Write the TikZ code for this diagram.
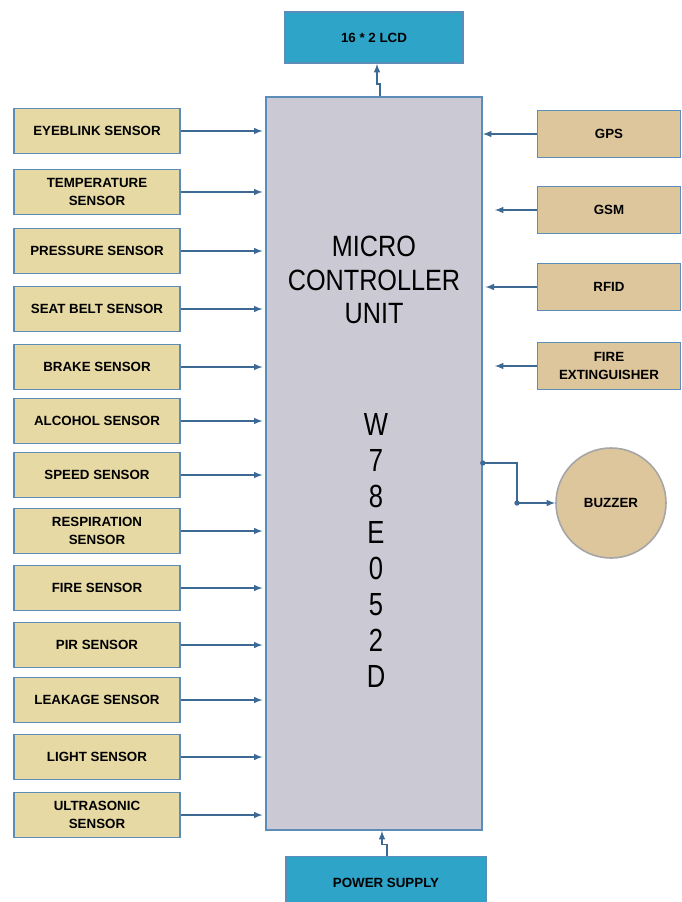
\documentclass[tikz,border=0pt]{standalone}
\usepackage{fontspec}
\setmainfont{Liberation Sans}
\newfontfamily\narrowfont[FakeStretch=0.86]{Liberation Sans}
\newfontfamily\chipfont[FakeStretch=0.8]{Liberation Sans}
\usepackage{xcolor}
\usepackage{tikz}
\usetikzlibrary{shapes.geometric, arrows, positioning, fit, calc}

\definecolor{boxline}{HTML}{5B8DB8}
\definecolor{sensorfill}{HTML}{E6D9A3}
\definecolor{devicefill}{HTML}{DDC59C}
\definecolor{mcufill}{HTML}{CBC9D3}
\definecolor{lcdfill}{HTML}{2DA4C8}
\definecolor{linkcolor}{HTML}{3C6A95}

\tikzset{
  sensor/.style={draw=boxline, line width=1.2pt, fill=sensorfill, minimum width=124.5pt,
    minimum height=33.75pt, align=center, inner sep=1pt,
    font=\fontsize{10}{13.5}\selectfont\bfseries},
  device/.style={sensor, fill=devicefill, minimum width=107pt, minimum height=35.5pt},
  display/.style={sensor, fill=lcdfill},
  link/.style={draw=linkcolor, line width=1.2pt, -latex, shorten >=2pt},
}

\begin{document}
\begin{tikzpicture}[x=0.75pt, y=-0.75pt]
\useasboundingbox (0,0) rectangle (681,902);

% controller
\node[draw=boxline, line width=1.2pt, fill=mcufill, minimum width=162pt, minimum height=549.75pt,
  inner sep=0pt] (mcu) at (374,463.5) {};
\node[font=\narrowfont\fontsize{22}{25}\selectfont, align=center] (mcutext) at (374,280)
  {MICRO\\CONTROLLER\\UNIT};
\node[font=\chipfont\fontsize{24}{27}\selectfont, align=center] (chip) at (376,550)
  {W\\7\\8\\E\\0\\5\\2\\D};

% display and supply
\node[display, minimum width=133.5pt, minimum height=38.25pt] (lcd) at (374,37.5) {16 * 2 LCD};
\node[display, minimum width=150pt, minimum height=40pt] (power) at (386,883) {POWER SUPPLY};

% sensors
\node[sensor] (eyeblink) at (97,131) {EYEBLINK SENSOR};
\node[sensor] (temperature) at (97,192) {TEMPERATURE\\SENSOR};
\node[sensor] (pressure) at (97,251) {PRESSURE SENSOR};
\node[sensor] (seatbelt) at (97,309) {SEAT BELT SENSOR};
\node[sensor] (brake) at (97,367) {BRAKE SENSOR};
\node[sensor] (alcohol) at (97,421) {ALCOHOL SENSOR};
\node[sensor] (speed) at (97,475) {SPEED SENSOR};
\node[sensor] (respiration) at (97,531) {RESPIRATION\\SENSOR};
\node[sensor] (fire) at (97,588) {FIRE SENSOR};
\node[sensor] (pir) at (97,645) {PIR SENSOR};
\node[sensor] (leakage) at (97,700) {LEAKAGE SENSOR};
\node[sensor] (light) at (97,757) {LIGHT SENSOR};
\node[sensor] (ultrasonic) at (97,815) {ULTRASONIC\\SENSOR};

% modules
\node[device] (gps) at (609,134) {GPS};
\node[device] (gsm) at (609,210) {GSM};
\node[device] (rfid) at (609,287) {RFID};
\node[device] (extinguisher) at (609,366) {FIRE\\EXTINGUISHER};
\node[circle, draw=gray!70, line width=1.2pt, fill=devicefill, minimum size=82.5pt,
  font=\fontsize{10}{12}\selectfont\bfseries] (buzzer) at (611,503) {BUZZER};

\foreach \s in {eyeblink, temperature, pressure, seatbelt, brake, alcohol, speed,
  respiration, fire, pir, leakage, light, ultrasonic}
  \draw[link] (\s) -- (\s -| mcu.west);

\draw[link, shorten >=0pt] (gps) -- (gps -| mcu.east);
\draw[link, shorten >=9pt] (gsm) -- (gsm -| mcu.east);
\draw[link] (rfid) -- (rfid -| mcu.east);
\draw[link, shorten >=9pt] (extinguisher) -- (extinguisher -| mcu.east);

\draw[link, shorten >=0pt] ([xshift=4.5pt]mcu.north) -- ++(0,-12) -- ++(-3,0) -- ([xshift=2.25pt]lcd.south);
\draw[link, shorten >=0pt] ([xshift=0.75pt]power.north) -- ++(0,-11) -- ++(-5,0) -- ([xshift=6pt]mcu.south);

\coordinate (bend) at (517,463);
\draw[link, shorten >=0pt] (bend -| mcu.east) -- (bend) |- (buzzer);
\fill[linkcolor] (bend -| mcu.east) circle (2pt) (bend |- buzzer) circle (2pt);
\end{tikzpicture}
\end{document}
